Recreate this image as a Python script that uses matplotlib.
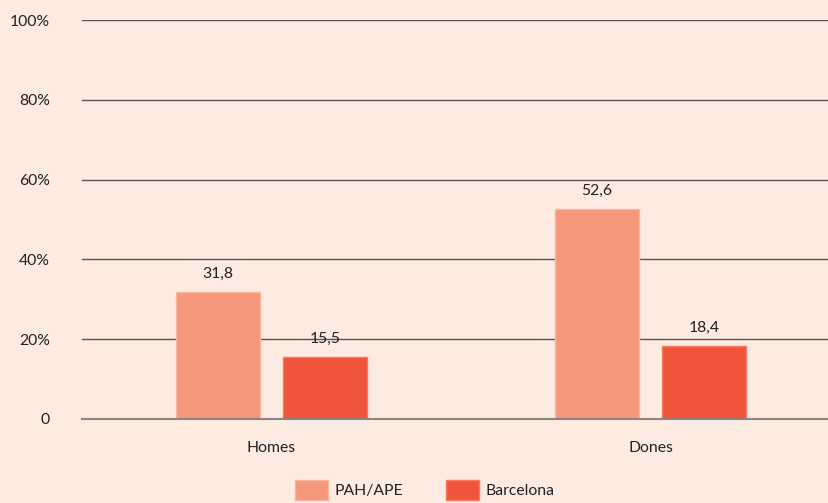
import matplotlib
matplotlib.use("Agg")
import matplotlib.pyplot as plt
import numpy as np

categories = ["Homes", "Dones"]
series_names = ["PAH/APE", "Barcelona"]
pah = [31.8, 52.6]
bcn = [15.5, 18.4]
yticks = [0, 20, 40, 60, 80, 100]
ytick_labels = ["0", "20%", "40%", "60%", "80%", "100%"]

plt.rcParams['font.family'] = ['Lato', 'DejaVu Sans']
bg = '#fdebe2'
c1, c2 = '#f4977a', '#f0543a'
e1, e2 = '#f9b6a0', '#f47a62'
fs = 11.3

fig = plt.figure(figsize=(8.29, 5.03), dpi=100, facecolor=bg)
ax = fig.add_axes([82/829, 84/503, 747/829, 399/503], facecolor=bg)

x = np.arange(len(categories))
w = 0.2216
off = 0.1412
b1 = ax.bar(x - off, pah, w, color=c1, edgecolor=e1, linewidth=1, label=series_names[0], zorder=3)
b2 = ax.bar(x + off, bcn, w, color=c2, edgecolor=e2, linewidth=1, label=series_names[1], zorder=3)

for bars, vals in ((b1, pah), (b2, bcn)):
    for r, v in zip(bars, vals):
        ax.annotate(f"{v:.1f}".replace('.', ','), (r.get_x() + r.get_width()/2, r.get_height()),
                    xytext=(0, 8), textcoords='offset points', ha='center', va='bottom',
                    fontsize=fs, color='#222222', zorder=4)

ax.set_xlim(-0.5, 1.471)
ax.set_ylim(0, 100)
ax.set_yticks(yticks)
ax.set_yticklabels(ytick_labels)
ax.set_xticks(x)
ax.set_xticklabels(categories)
ax.tick_params(axis='y', length=0, pad=23, labelsize=fs, labelcolor='#222222')
ax.tick_params(axis='x', length=0, pad=16, labelsize=fs, labelcolor='#222222')
for s in ['top', 'right', 'left']:
    ax.spines[s].set_visible(False)
ax.spines['bottom'].set_color('#8c8580')
ax.spines['bottom'].set_linewidth(1.5)
ax.spines['bottom'].set_zorder(5)
ax.yaxis.grid(True, color='#555555', linewidth=1, zorder=0)
ax.set_axisbelow(True)

fig.legend(handles=[b1, b2], loc='upper center', bbox_to_anchor=(425/829, 23/503),
           ncol=2, frameon=False, fontsize=fs, handlelength=2.1, handleheight=1.6,
           handletextpad=0.4, columnspacing=2.75, borderpad=0, borderaxespad=0,
           labelcolor='#222222')

fig.savefig('out.png', dpi=100, facecolor=bg)
